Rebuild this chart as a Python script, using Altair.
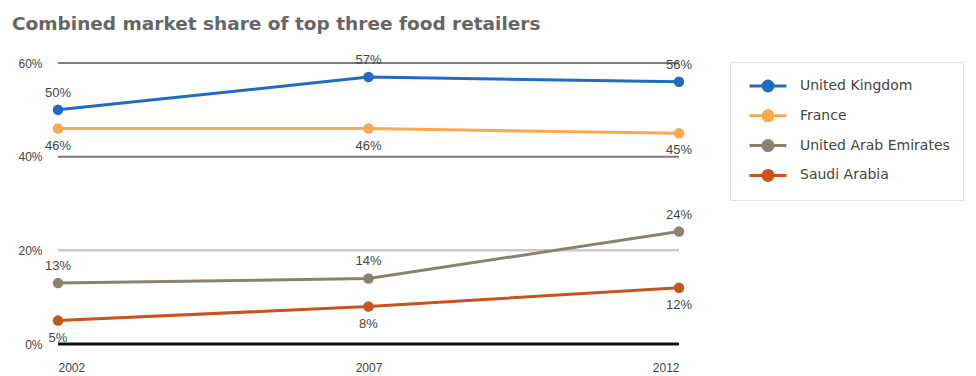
import altair as alt
import pandas as pd

years = [2002, 2007, 2012]
series = ["United Kingdom", "France", "United Arab Emirates", "Saudi Arabia"]
uk = [50, 57, 56]
france = [46, 46, 45]
uae = [13, 14, 24]
saudi = [5, 8, 12]
colors = ["#1f6cc0", "#f9a94f", "#8a8270", "#c4561d"]
y_ticks = [0, 20, 40, 60]

rows = []
for name, vals in zip(series, [uk, france, uae, saudi]):
    for yr, v in zip(years, vals):
        rows.append({"year": yr, "country": name, "share": v})
df = pd.DataFrame(rows)
grid = pd.DataFrame({"v": y_ticks})

FONT = "Liberation Sans"
LFONT = "DejaVu Sans"
W, H = 621, 281

xs = alt.X("year:Q", scale=alt.Scale(domain=[2002, 2012], nice=False, zero=False),
           axis=alt.Axis(values=years, format="d", title=None, domain=False, ticks=False,
                         grid=False, labelPadding=18, labelFontSize=12, labelColor="#444",
                         labelFont=FONT))
ys = alt.Y("share:Q", scale=alt.Scale(domain=[0, 60], nice=False),
           axis=alt.Axis(values=y_ticks, title=None, domain=False, ticks=False, grid=False,
                         labelExpr="datum.value + '%'", labelPadding=16, labelFontSize=12,
                         labelColor="#444", labelFont=FONT))
col = alt.Color("country:N", scale=alt.Scale(domain=series, range=colors),
                sort=series,
                legend=alt.Legend(title=None, orient="none", legendX=672, legendY=-1,
                                  fillColor="white", strokeColor="#e3e3e3", padding=13,
                                  labelFontSize=14, labelColor="#444", labelFont=LFONT,
                                  symbolType="M-2,0L2,0M-0.54,0A0.54,0.54,0,1,0,0.54,0A0.54,0.54,0,1,0,-0.54,0Z",
                                  symbolSize=342, symbolStrokeWidth=3, rowPadding=7.8,
                                  symbolOffset=14, labelOffset=21))

gy = alt.Y("v:Q", scale=alt.Scale(domain=[0, 60], nice=False))
g_dark = alt.Chart(grid).transform_filter("datum.v == 40 || datum.v == 60").mark_rule(
    color="#7d7d7d", strokeWidth=2).encode(y=gy)
g_light = alt.Chart(grid).transform_filter("datum.v == 20").mark_rule(
    color="#c9c9c9", strokeWidth=2.5).encode(y=gy)
g_zero = alt.Chart(grid).transform_filter("datum.v == 0").mark_rule(
    color="#111111", strokeWidth=3).encode(y=gy)

base = alt.Chart(df)
lines = base.mark_line(strokeWidth=3).encode(x=xs, y=ys, color=col)
points = base.mark_point(filled=True, size=110, opacity=1).encode(x=xs, y=ys, color=col)

def labels(names, dy):
    return base.transform_filter(
        alt.FieldOneOfPredicate(field="country", oneOf=names)
    ).transform_calculate(lbl="datum.share + '%'").mark_text(
        dy=dy, fontSize=13, color="#444", font=FONT
    ).encode(x="year:Q", y="share:Q", text="lbl:N")

above = labels(["United Kingdom", "United Arab Emirates"], -17)
below = labels(["France", "Saudi Arabia"], 17)

chart = alt.layer(g_light, g_dark, g_zero, lines, points, above, below).properties(
    width=W, height=H,
    title=alt.TitleParams("Combined market share of top three food retailers",
                          anchor="start", fontSize=18.5, fontWeight="bold", color="#666",
                          font=LFONT, dx=-6, offset=21),
    padding={"left": 58, "top": 63, "right": 976 - 58 - W, "bottom": 376 - 63 - H},
    autosize=alt.AutoSizeParams(type="none"),
).configure_view(stroke=None)

chart.save("out.html", embed_options={"renderer": "svg", "actions": False})
